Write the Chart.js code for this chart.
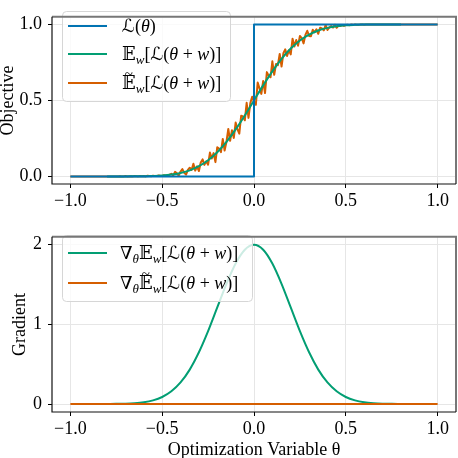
<!DOCTYPE html>
<html><head><meta charset="utf-8">
<script src="https://cdn.jsdelivr.net/npm/chart.js@4.4.1/dist/chart.umd.min.js"></script>
<style>
html,body{margin:0;padding:0;background:#fff;overflow:hidden;width:458px;height:458px}
.w{position:absolute;left:0;width:458px}
</style></head><body>
<div class="w" style="top:0;height:220px"><canvas id="c1"></canvas></div>
<div class="w" style="top:220px;height:240px"><canvas id="c2"></canvas></div>
<script>
// ---- data ----
const xTicks = [-1, -0.5, 0, 0.5, 1];
const xTickLabels = ['\u22121.0', '\u22120.5', '0.0', '0.5', '1.0'];
const objYTicks = [0, 0.5, 1];
const objYTickLabels = ['0.0', '0.5', '1.0'];
const gradYTicks = [0, 1, 2];
const gradYTickLabels = ['0', '1', '2'];

const stepTheta = [-1, 0, 0, 1];
const stepObj = [0, 0, 1, 1];

const smoothTheta = [-0.8,-0.75,-0.7,-0.65,-0.6,-0.55,-0.5,-0.45,-0.4,-0.35,-0.3,-0.25,-0.2,-0.15,-0.1,-0.05,0,
  0.05,0.1,0.15,0.2,0.25,0.3,0.35,0.4,0.45,0.5,0.55,0.6,0.65,0.7,0.75,0.8];
const smoothObj = [0.000,0.000,0.000,0.001,0.001,0.003,0.006,0.012,0.023,0.040,0.067,0.106,0.159,0.227,0.309,0.401,0.500,
  0.599,0.691,0.773,0.841,0.894,0.933,0.960,0.977,0.988,0.994,0.997,0.999,0.999,1.000,1.000,1.000];
const smoothGrad = [0.001,0.002,0.004,0.010,0.022,0.046,0.088,0.159,0.270,0.431,0.648,0.913,1.210,1.506,1.760,1.933,1.995,
  1.933,1.760,1.506,1.210,0.913,0.648,0.431,0.270,0.159,0.088,0.046,0.022,0.010,0.004,0.002,0.001];

const noisyTheta = [-1.0,-0.8,
  -0.75,-0.74,-0.73,-0.72,-0.71,-0.70,-0.69,-0.68,-0.67,-0.66,-0.65,-0.64,-0.63,-0.62,-0.61,-0.60,-0.59,-0.58,-0.57,-0.56,-0.55,-0.54,-0.53,-0.52,-0.51,
  -0.50,-0.49,-0.48,-0.47,-0.46,-0.45,-0.44,-0.43,-0.42,-0.41,
  -0.40,-0.39,-0.38,-0.37,-0.36,-0.35,-0.34,-0.33,-0.32,-0.31,
  -0.30,-0.29,-0.28,-0.27,-0.26,-0.25,-0.24,-0.23,-0.22,-0.21,
  -0.20,-0.19,-0.18,-0.17,-0.16,-0.15,-0.14,-0.13,-0.12,-0.11,
  -0.10,-0.09,-0.08,-0.07,-0.06,-0.05,-0.04,-0.03,-0.02,-0.01,
  0.00,0.01,0.02,0.03,0.04,0.05,0.06,0.07,0.08,0.09,
  0.10,0.11,0.12,0.13,0.14,0.15,0.16,0.17,0.18,0.19,
  0.20,0.21,0.22,0.23,0.24,0.25,0.26,0.27,0.28,0.29,
  0.30,0.31,0.32,0.33,0.34,0.35,0.36,0.37,0.38,0.39,
  0.40,0.41,0.42,0.43,0.44,0.45,0.46,0.47,0.48,0.49,
  0.50,0.51,0.52,0.53,0.54,0.55,0.56,0.57,0.58,0.59,
  0.60,0.61,0.62,0.63,0.64,0.65,0.66,0.67,0.68,0.69,
  0.70,0.71,0.72,0.73,0.74,0.75,
  0.8,1.0];
const noisyObj = [0,0,
  0,0,0.001,0,0,0.002,0,0,0.001,0,0.002,0.001,0,0.003,0.001,0.002,0,0.004,0.002,0.001,0.005,0.003,0.002,0.006,0.004,
  0.003,0.008,0.005,0.007,0.011,0.017,0.006,0.030,0.020,0.006,
  0.032,0.048,0.024,0.012,0.043,0.057,0.042,0.083,0.038,0.066,
  0.035,0.091,0.112,0.076,0.099,0.077,0.157,0.118,0.153,0.094,
  0.192,0.183,0.160,0.246,0.170,0.227,0.312,0.234,0.304,0.253,
  0.354,0.309,0.281,0.399,0.394,0.369,0.484,0.385,0.482,0.524,
  0.493,0.471,0.618,0.579,0.543,0.628,0.548,0.686,0.663,0.652,
  0.757,0.668,0.740,0.732,0.806,0.723,0.810,0.836,0.792,0.829,
  0.803,0.906,0.854,0.897,0.860,0.924,0.910,0.875,0.931,0.958,
  0.924,0.922,0.965,0.948,0.968,0.938,0.978,0.973,0.961,0.996,
  0.963,0.980,0.989,0.979,0.998,0.978,0.992,0.989,0.996,0.990,
  0.996,0.998,0.995,0.999,0.997,1.000,0.998,0.997,1.000,0.999,
  0.998,1.000,0.999,1.000,1.000,0.999,1.000,1.000,1.000,0.999,
  1.000,1.000,1.000,1.000,1.000,1.000,
  1,1];

const noisyGradTheta = [-1, 1];
const noisyGrad = [0, 0];

const BLUE = '#0173B2', GREEN = '#029E73', ORANGE = '#D55E00';

// ---- text helpers ----
const FAM = "'Liberation Serif','DejaVu Serif','DejaVu Sans',serif";
const FN = "18px " + FAM, FI = "italic 18px " + FAM, FS = "italic 13px " + FAM;
const L_PARTS = [{t:'\u2112',f:FN},{t:'(',f:FN},{t:'\u03B8',f:FI},{t:')',f:FN}];
function eParts(tilde, grad) {
  const p = [];
  if (grad) { p.push({t:'\u2207',f:FN}); p.push({t:'\u03B8',f:FS,dy:4}); }
  p.push({t:'\uD835\uDD3C',f:FN,tilde:tilde});
  p.push({t:'w',f:FS,dy:4});
  p.push({t:'[',f:FN},{t:'\u2112',f:FN},{t:'(',f:FN},{t:'\u03B8',f:FI},{t:' + ',f:FN},{t:'w',f:FI},{t:')',f:FN},{t:']',f:FN});
  return p;
}
function drawParts(ctx, x, y, parts) {
  ctx.fillStyle = '#000';
  ctx.textBaseline = 'alphabetic';
  ctx.textAlign = 'left';
  for (const p of parts) {
    ctx.font = p.f;
    const w = ctx.measureText(p.t).width;
    ctx.fillText(p.t, x, y + (p.dy || 0));
    if (p.tilde) {
      ctx.font = "15px " + FAM;
      ctx.textAlign = 'center';
      ctx.fillText('~', x + w / 2, y - 10);
      ctx.textAlign = 'left';
    }
    x += w;
  }
}
function roundRect(ctx, x, y, w, h, r) {
  ctx.beginPath();
  ctx.moveTo(x + r, y); ctx.lineTo(x + w - r, y); ctx.quadraticCurveTo(x + w, y, x + w, y + r);
  ctx.lineTo(x + w, y + h - r); ctx.quadraticCurveTo(x + w, y + h, x + w - r, y + h);
  ctx.lineTo(x + r, y + h); ctx.quadraticCurveTo(x, y + h, x, y + h - r);
  ctx.lineTo(x, y + r); ctx.quadraticCurveTo(x, y, x + r, y); ctx.closePath();
}
function legendPlugin(box, rows) {
  return {
    id: 'mlegend',
    afterDatasetsDraw(chart) {
      const ctx = chart.ctx;
      ctx.save();
      roundRect(ctx, box.x, box.y, box.w, box.h, 4);
      ctx.fillStyle = 'rgba(255,255,255,0.8)';
      ctx.fill();
      ctx.strokeStyle = '#d6d6d6';
      ctx.lineWidth = 1;
      ctx.stroke();
      for (const r of rows) {
        ctx.strokeStyle = r.color; ctx.lineWidth = 2;
        ctx.beginPath(); ctx.moveTo(box.lx0, r.y); ctx.lineTo(box.lx1, r.y); ctx.stroke();
        drawParts(ctx, box.tx, r.y + 6, r.parts);
      }
      ctx.restore();
    }
  };
}
const spinePlugin = {
  id: 'spines',
  afterDraw(chart) {
    const a = chart.chartArea, ctx = chart.ctx;
    ctx.save();
    ctx.strokeStyle = '#777'; ctx.lineWidth = 2;
    ctx.beginPath(); ctx.moveTo(a.left, a.top); ctx.lineTo(a.right, a.top); ctx.lineTo(a.right, a.bottom); ctx.stroke();
    ctx.strokeStyle = '#111'; ctx.lineWidth = 1.2;
    ctx.beginPath(); ctx.moveTo(a.left, a.top); ctx.lineTo(a.left, a.bottom); ctx.lineTo(a.right, a.bottom); ctx.stroke();
    ctx.restore();
  }
};

function pts(xs, ys) { return xs.map((x, i) => ({x: x, y: ys[i]})); }
const tickFont = {family: FAM, size: 18};
function xScale(h, title) {
  return {
    type: 'linear', min: -1.1, max: 1.1,
    afterBuildTicks: s => { s.ticks = xTicks.map(v => ({value: v})); },
    afterFit: s => { s.height = h; },
    ticks: {callback: (v, i) => xTickLabels[i], font: tickFont, color: '#000', padding: 2, maxRotation: 0, autoSkip: false},
    grid: {color: '#e6e6e6', lineWidth: 1, tickLength: 4, tickColor: '#000', drawTicks: true},
    border: {display: false},
    title: title ? {display: true, text: title, font: {family: FAM, size: 18, lineHeight: 1.0}, color: '#000', padding: {top: 0, bottom: 1}} : {display: false}
  };
}
function yScale(min, max, ticks, labels, title, tpad) {
  return {
    type: 'linear', min: min, max: max,
    afterBuildTicks: s => { s.ticks = ticks.map(v => ({value: v})); },
    afterFit: s => { s.width = 52; },
    ticks: {callback: (v, i) => labels[i], font: tickFont, color: '#000', padding: 6, autoSkip: false},
    grid: {color: '#e6e6e6', lineWidth: 1, tickLength: 4, tickColor: '#000', drawTicks: true},
    border: {display: false},
    title: {display: true, text: title, font: {family: FAM, size: 18, lineHeight: 0.9}, color: '#000', padding: {top: tpad, bottom: 0}}
  };
}
const common = {animation: false, responsive: true, maintainAspectRatio: false, events: []};
const lineDs = (label, data, color, order, smooth) => ({
  label: label, data: data, borderColor: color, backgroundColor: color, borderWidth: 2,
  pointRadius: 0, fill: false, order: order, tension: 0,
  cubicInterpolationMode: smooth ? 'monotone' : 'default', borderJoinStyle: 'round'
});

new Chart(document.getElementById('c1'), {
  type: 'line',
  data: {datasets: [
    lineDs('L', pts(stepTheta, stepObj), BLUE, 0, false),
    lineDs('E', pts(smoothTheta, smoothObj), GREEN, 1, true),
    lineDs('Et', pts(noisyTheta, noisyObj), ORANGE, 2, false)
  ]},
  options: Object.assign({}, common, {
    layout: {padding: {left: 0, right: 2, top: 2, bottom: 0}},
    plugins: {legend: {display: false}, tooltip: {enabled: false}},
    scales: {x: xScale(36, null), y: yScale(-0.05, 1.05, objYTicks, objYTickLabels, 'Objective', 0)}
  }),
  plugins: [spinePlugin, legendPlugin({x: 62.5, y: 11.5, w: 168, h: 90, lx0: 68, lx1: 107, tx: 122},
    [{y: 26, color: BLUE, parts: L_PARTS}, {y: 54, color: GREEN, parts: eParts(false, false)}, {y: 83, color: ORANGE, parts: eParts(true, false)}])]
});

new Chart(document.getElementById('c2'), {
  type: 'line',
  data: {datasets: [
    lineDs('gE', pts(smoothTheta, smoothGrad), GREEN, 1, true),
    lineDs('gEt', pts(noisyGradTheta, noisyGrad), ORANGE, 0, false)
  ]},
  options: Object.assign({}, common, {
    layout: {padding: {left: 0, right: 2, top: 9, bottom: 0}},
    plugins: {legend: {display: false}, tooltip: {enabled: false}},
    scales: {x: xScale(48, 'Optimization Variable \u03B8'), y: yScale(-0.1, 2.095, gradYTicks, gradYTickLabels, 'Gradient', 12)}
  }),
  plugins: [spinePlugin, legendPlugin({x: 62.5, y: 15.5, w: 190, h: 66, lx0: 68, lx1: 107, tx: 120},
    [{y: 33, color: GREEN, parts: eParts(false, true)}, {y: 63, color: ORANGE, parts: eParts(true, true)}])]
});
</script>
</body></html>
